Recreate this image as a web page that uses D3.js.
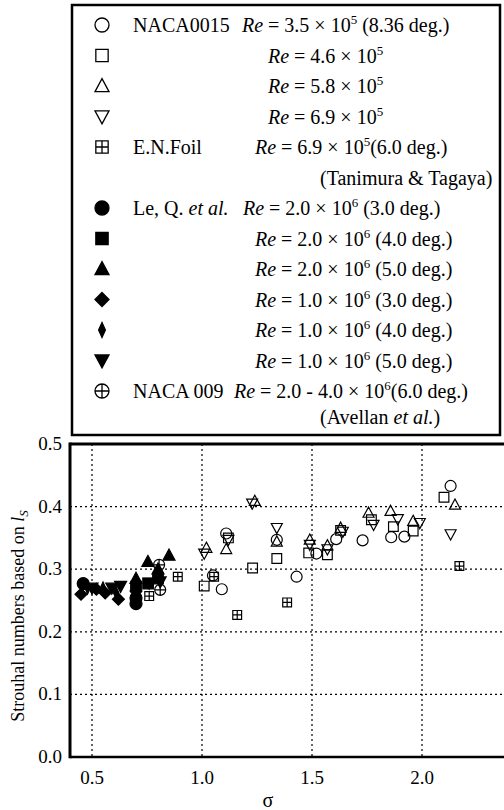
<!DOCTYPE html>
<html>
<head>
<meta charset="utf-8">
<script src="https://cdn.jsdelivr.net/npm/d3@7"></script>
<style>
  body { margin: 0; background: #fff; }
  svg { font-family: "Liberation Serif", "DejaVu Serif", serif; }
</style>
</head>
<body>
<div id="chart"></div>
<script>
"use strict";

// NACA0015 (open markers), sigma vs Strouhal number
var naca35 = [[1.05,0.29],[1.09,0.268],[1.11,0.357],[1.34,0.347],[1.43,0.288],[1.52,0.325],[1.61,0.348],[1.73,0.346],[1.86,0.351],[1.92,0.352],[2.13,0.433]];
var naca46 = [[1.01,0.273],[1.12,0.35],[1.23,0.302],[1.34,0.317],[1.485,0.326],[1.57,0.323],[1.63,0.362],[1.77,0.379],[1.87,0.368],[1.96,0.361],[2.10,0.415]];
var naca58 = [[1.02,0.334],[1.11,0.332],[1.24,0.409],[1.34,0.344],[1.49,0.347],[1.57,0.338],[1.63,0.366],[1.757,0.39],[1.857,0.393],[1.96,0.377],[2.15,0.403]];
var naca69 = [[1.01,0.325],[1.12,0.347],[1.228,0.405],[1.34,0.366],[1.49,0.339],[1.57,0.332],[1.64,0.36],[1.78,0.371],[1.89,0.38],[1.99,0.374],[2.13,0.356]];
// E.N.Foil (Tanimura & Tagaya)
var enFoil = [[0.76,0.257],[0.89,0.288],[1.055,0.288],[1.16,0.227],[1.387,0.247],[2.17,0.305]];
// Le, Q. et al.
var le20a3 = [[0.46,0.277],[0.70,0.254],[0.70,0.245]];
var le20a4 = [[0.70,0.272],[0.755,0.277],[0.80,0.285]];
var le20a5 = [[0.70,0.285],[0.754,0.312],[0.80,0.300],[0.85,0.322]];
var le10a3 = [[0.45,0.26],[0.52,0.268],[0.56,0.262],[0.62,0.252],[0.70,0.265]];
var le10a4 = [[0.48,0.27],[0.55,0.27],[0.61,0.262],[0.70,0.262]];
var le10a5 = [[0.50,0.27],[0.59,0.27],[0.63,0.273],[0.76,0.278],[0.81,0.28]];
// NACA 009 (Avellan et al.)
var avellan = [[0.805,0.307],[0.81,0.267]];

var seriesData = [naca35, naca46, naca58, naca69, enFoil, le20a3, le20a4, le20a5, le10a3, le10a4, le10a5, avellan];
var seriesMarker = ["circle","square","tri","tridown","boxplus","dot","fsquare","ftri","fdiamond","fthin","ftridown","oplus"];

// legend text
var legendNames = ["NACA0015","","","","E.N.Foil","Le, Q. ","","","","","","NACA 009"];
var legendMant = ["3.5","4.6","5.8","6.9","6.9","2.0","2.0","2.0","1.0","1.0","1.0","2.0 - 4.0"];
var legendExp = ["5","5","5","5","5","6","6","6","6","6","6","6"];
var legendNote = [" (8.36 deg.)","","","","(6.0 deg.)"," (3.0 deg.)"," (4.0 deg.)"," (5.0 deg.)"," (3.0 deg.)"," (4.0 deg.)"," (5.0 deg.)","(6.0 deg.)"];
var legendRow = [0,1,2,3,4,6,7,8,9,10,11,12];

var xTicks = [0.5, 1.0, 1.5, 2.0];
var yTicks = [0.0, 0.1, 0.2, 0.3, 0.4, 0.5];

var W = 504, H = 810;
var plot = { left: 70, top: 444, bottom: 757, right: 510 };

var svg = d3.select("#chart").append("svg")
  .attr("width", W).attr("height", H);

var x = d3.scaleLinear().domain([0.4, 2.4]).range([plot.left, plot.right]);
var y = d3.scaleLinear().domain([0, 0.5]).range([plot.bottom, plot.top]);

// marker shapes, s = nominal size in px
function markerPath(type, s) {
  var h = s / 2, p = d3.path();
  if (type === "circle" || type === "dot" || type === "oplus") {
    p.moveTo(h, 0); p.arc(0, 0, h, 0, 2 * Math.PI);
    if (type === "oplus") { p.moveTo(-h, 0); p.lineTo(h, 0); p.moveTo(0, -h); p.lineTo(0, h); }
  } else if (type === "square" || type === "fsquare" || type === "boxplus") {
    var q = h * 0.88;
    p.rect(-q, -q, 2 * q, 2 * q);
    if (type === "boxplus") { p.moveTo(-q, 0); p.lineTo(q, 0); p.moveTo(0, -q); p.lineTo(0, q); }
  } else if (type === "tri" || type === "ftri") {
    p.moveTo(0, -h * 1.05); p.lineTo(h, h * 0.8); p.lineTo(-h, h * 0.8); p.closePath();
  } else if (type === "tridown" || type === "ftridown") {
    p.moveTo(0, h * 1.05); p.lineTo(h, -h * 0.8); p.lineTo(-h, -h * 0.8); p.closePath();
  } else if (type === "fdiamond") {
    p.moveTo(0, -h); p.lineTo(h, 0); p.lineTo(0, h); p.lineTo(-h, 0); p.closePath();
  } else if (type === "fthin") {
    p.moveTo(0, -h); p.lineTo(h * 0.45, 0); p.lineTo(0, h); p.lineTo(-h * 0.45, 0); p.closePath();
  }
  return p.toString();
}
function isFilled(type) { return type.charAt(0) === "f" || type === "dot"; }

// grid (dotted)
var grid = svg.append("g");
grid.selectAll(".vg").data(xTicks).enter().append("line")
  .attr("x1", function (d) { return x(d); }).attr("x2", function (d) { return x(d); })
  .attr("y1", plot.top).attr("y2", plot.bottom)
  .attr("stroke", "#000").attr("stroke-width", 1.2).attr("stroke-dasharray", "2,3");
grid.selectAll(".hg").data(yTicks.slice(1, 5)).enter().append("line")
  .attr("x1", plot.left).attr("x2", W)
  .attr("y1", function (d) { return y(d); }).attr("y2", function (d) { return y(d); })
  .attr("stroke", "#000").attr("stroke-width", 1.2).attr("stroke-dasharray", "2,3");

// frame
svg.append("line").attr("x1", plot.left).attr("x2", W).attr("y1", plot.top).attr("y2", plot.top)
  .attr("stroke", "#000").attr("stroke-width", 3);
svg.append("line").attr("x1", plot.left).attr("x2", W).attr("y1", plot.bottom).attr("y2", plot.bottom)
  .attr("stroke", "#000").attr("stroke-width", 2.5);
svg.append("line").attr("x1", plot.left).attr("x2", plot.left).attr("y1", plot.top - 1.5).attr("y2", plot.bottom + 1.2)
  .attr("stroke", "#000").attr("stroke-width", 3);

// tick labels
svg.append("g").selectAll("text").data(yTicks).enter().append("text")
  .attr("x", plot.left - 8).attr("y", function (d) { return y(d) + 6; })
  .attr("text-anchor", "end").attr("font-size", 19)
  .text(function (d) { return d3.format(".1f")(d); });
svg.append("g").selectAll("text").data(xTicks).enter().append("text")
  .attr("x", function (d) { return x(d); }).attr("y", plot.bottom + 27)
  .attr("text-anchor", "middle").attr("font-size", 19)
  .text(function (d) { return d3.format(".1f")(d); });

// axis titles
svg.append("text").attr("x", x(1.3)).attr("y", 807).attr("text-anchor", "middle")
  .attr("font-size", 20).text("σ");
var yt = svg.append("text").attr("transform", "translate(24,616) rotate(-90)")
  .attr("text-anchor", "middle").attr("font-size", 18);
yt.append("tspan").text("Strouhal numbers based on ");
yt.append("tspan").attr("font-style", "italic").text("l");
yt.append("tspan").attr("font-style", "italic").attr("font-size", 13).attr("dy", 4).text("S");

// data points
seriesData.forEach(function (data, i) {
  var type = seriesMarker[i];
  var size = isFilled(type) ? 12 : 11;
  if (type === "boxplus") size = 10;
  svg.append("g").selectAll("path").data(data).enter().append("path")
    .attr("transform", function (d) { return "translate(" + x(d[0]) + "," + y(d[1]) + ")"; })
    .attr("d", markerPath(type, size))
    .attr("fill", isFilled(type) ? "#000" : "none")
    .attr("stroke", "#000").attr("stroke-width", 1.2);
});

// legend
var lg = svg.append("g");
lg.append("rect").attr("x", 72).attr("y", 5).attr("width", 428).attr("height", 430)
  .attr("fill", "#fff").attr("stroke", "#000").attr("stroke-width", 2.5);
var rowY = function (r) { return 25 + r * 30.5; };
var reX = [242, 268, 268, 268, 255, 243, 255, 255, 255, 255, 255, 234];
var fs = 20;

legendRow.forEach(function (r, i) {
  var type = seriesMarker[i];
  lg.append("path")
    .attr("transform", "translate(102," + rowY(r) + ")")
    .attr("d", markerPath(type, type === "fthin" ? 15 : 14))
    .attr("fill", isFilled(type) ? "#000" : "none")
    .attr("stroke", "#000").attr("stroke-width", 1.3);
  if (legendNames[i]) {
    var nt = lg.append("text").attr("x", 133).attr("y", rowY(r) + 7).attr("font-size", fs);
    nt.append("tspan").text(legendNames[i]);
    if (i === 5) nt.append("tspan").attr("font-style", "italic").text("et al.");
  }
  var t = lg.append("text").attr("x", reX[i]).attr("y", rowY(r) + 7).attr("font-size", fs);
  t.append("tspan").attr("font-style", "italic").text("Re");
  t.append("tspan").text(" = " + legendMant[i] + " × 10");
  t.append("tspan").attr("font-size", 13).attr("dy", -8).text(legendExp[i]);
  t.append("tspan").attr("dy", 8).text(legendNote[i]);
});
lg.append("text").attr("x", 320).attr("y", rowY(5) + 7)
  .attr("font-size", fs).text("(Tanimura & Tagaya)");
var av = lg.append("text").attr("x", 320).attr("y", rowY(12) + 33)
  .attr("font-size", fs);
av.append("tspan").text("(Avellan ");
av.append("tspan").attr("font-style", "italic").text("et al.");
av.append("tspan").text(")");
</script>
</body>
</html>
